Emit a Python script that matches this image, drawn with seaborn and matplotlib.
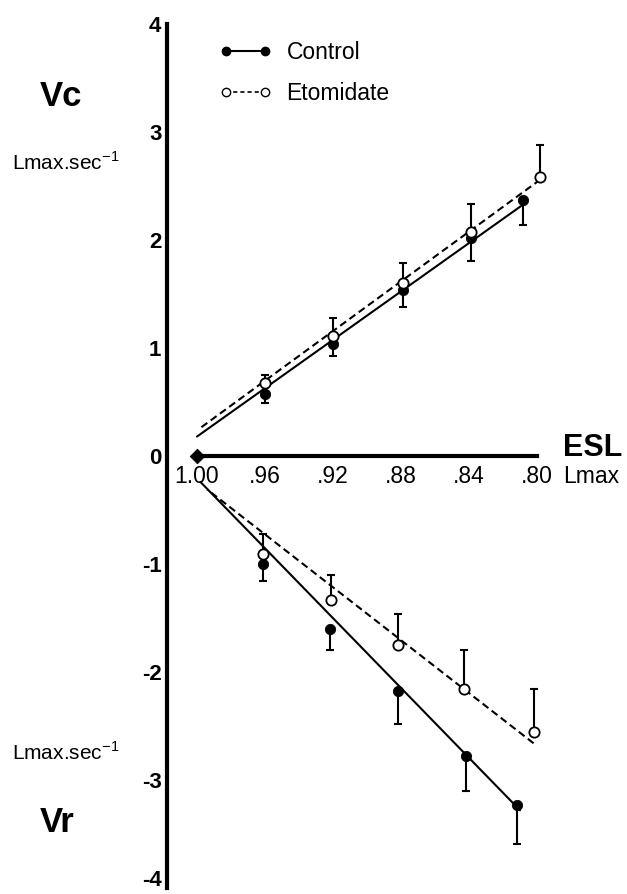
import matplotlib
matplotlib.use("Agg")
import matplotlib.pyplot as plt
import matplotlib.transforms as mtrans
from matplotlib.lines import Line2D
import seaborn as sns

# ---- data ----
esl_ticks = [1.00, 0.96, 0.92, 0.88, 0.84, 0.80]
esl_labels = ["1.00", ".96", ".92", ".88", ".84", ".80"]
v_ticks = [-4, -3, -2, -1, 0, 1, 2, 3, 4]
v_labels = ["-4", "-3", "-2", "-1", "0", "1", "2", "3", "4"]

origin_x = [1.00]
origin_y = [0.0]

# Vc (shortening velocity, upper half)
vc_ctrl_x = [0.960, 0.920, 0.879, 0.839, 0.808]
vc_ctrl_y = [0.57, 1.04, 1.54, 2.02, 2.37]
vc_ctrl_err = [0.08, 0.11, 0.16, 0.21, 0.23]

vc_etom_x = [0.960, 0.920, 0.879, 0.839, 0.798]
vc_etom_y = [0.68, 1.11, 1.60, 2.07, 2.58]
vc_etom_err = [0.07, 0.17, 0.19, 0.26, 0.30]

vc_ctrl_fit_x = [1.000, 0.808]
vc_ctrl_fit_y = [0.18, 2.33]
vc_etom_fit_x = [0.998, 0.798]
vc_etom_fit_y = [0.26, 2.56]

# Vr (relengthening velocity, lower half)
vr_ctrl_x = [0.961, 0.922, 0.882, 0.842, 0.812]
vr_ctrl_y = [-1.00, -1.60, -2.18, -2.78, -3.23]
vr_ctrl_err = [0.16, 0.20, 0.30, 0.32, 0.36]

vr_etom_x = [0.961, 0.921, 0.882, 0.843, 0.802]
vr_etom_y = [-0.91, -1.33, -1.75, -2.16, -2.56]
vr_etom_err = [0.19, 0.23, 0.29, 0.36, 0.40]

vr_ctrl_fit_x = [0.998, 0.810]
vr_ctrl_fit_y = [-0.24, -3.28]
vr_etom_fit_x = [0.994, 0.802]
vr_etom_fit_y = [-0.31, -2.66]

# ---- style ----
sns.set_theme(style="white")
plt.rcParams["font.family"] = ["Liberation Sans", "DejaVu Sans"]
plt.rcParams["axes.unicode_minus"] = False
plt.rcParams["text.color"] = "black"
plt.rcParams["legend.labelcolor"] = "black"

W, H = 627, 894
fig = plt.figure(figsize=(W / 100, H / 100), dpi=100)
fig.patch.set_facecolor("white")

# axes box: left spine at px 167, y=4 at px 24, y=-4 at px 888
left_px, right_px = 167, 627
top_px, bot_px = 24, 888
ax = fig.add_axes([left_px / W, 1 - bot_px / H, (right_px - left_px) / W, (bot_px - top_px) / H])
ax.set_facecolor("white")

px_per_unit_x = 68 / 0.04
ax.set_xlim(1.0 + (197 - left_px) / px_per_unit_x, 1.0 - (right_px - 197) / px_per_unit_x)
ax.set_ylim(-4, 4)

LW = 1.5
# fitted lines
sns.lineplot(x=vc_ctrl_fit_x, y=vc_ctrl_fit_y, ax=ax, color="black", linewidth=LW, zorder=2)
sns.lineplot(x=vc_etom_fit_x, y=vc_etom_fit_y, ax=ax, color="black", linewidth=LW,
             linestyle=(0, (3.5, 2)), zorder=2)
sns.lineplot(x=vr_ctrl_fit_x, y=vr_ctrl_fit_y, ax=ax, color="black", linewidth=LW, zorder=2)
sns.lineplot(x=vr_etom_fit_x, y=vr_etom_fit_y, ax=ax, color="black", linewidth=LW,
             linestyle=(0, (3.5, 2)), zorder=2)

# one-sided error bars
def ebar(xs, ys, errs, down):
    zeros = [0] * len(errs)
    yerr = [errs, zeros] if down else [zeros, errs]
    ax.errorbar(xs, ys, yerr=yerr, fmt="none", ecolor="black", elinewidth=LW,
                capsize=3, capthick=LW, zorder=3, clip_on=False)

ebar(vc_ctrl_x, vc_ctrl_y, vc_ctrl_err, down=True)
ebar(vc_etom_x, vc_etom_y, vc_etom_err, down=False)
ebar(vr_ctrl_x, vr_ctrl_y, vr_ctrl_err, down=True)
ebar(vr_etom_x, vr_etom_y, vr_etom_err, down=False)

# points
for xs, ys in [(vc_ctrl_x, vc_ctrl_y), (vr_ctrl_x, vr_ctrl_y)]:
    sns.scatterplot(x=xs, y=ys, ax=ax, marker="o", color="black", edgecolor="black",
                    s=55, zorder=4, clip_on=False)
for xs, ys in [(vc_etom_x, vc_etom_y), (vr_etom_x, vr_etom_y)]:
    sns.scatterplot(x=xs, y=ys, ax=ax, marker="o", facecolor="white", edgecolor="black",
                    linewidth=1.3, s=55, zorder=5, clip_on=False)
sns.scatterplot(x=origin_x, y=origin_y, ax=ax, marker="D", color="black", edgecolor="black",
                s=55, zorder=6, clip_on=False)

# spines
for side in ["top", "right"]:
    ax.spines[side].set_visible(False)
ax.spines["left"].set_linewidth(3)
ax.spines["left"].set_color("black")
ax.spines["left"].set_bounds(-4, 4)
ax.spines["bottom"].set_position(("data", 0))
ax.spines["bottom"].set_linewidth(3)
ax.spines["bottom"].set_color("black")
ax.spines["bottom"].set_bounds(esl_ticks[0], esl_ticks[-1])
ax.spines["bottom"].set_zorder(3)

ax.set_xticks(esl_ticks)
ax.set_xticklabels(esl_labels)
ax.set_yticks(v_ticks)
ax.set_yticklabels(v_labels)
ax.tick_params(axis="x", direction="inout", length=9.5, width=1.5, colors="black",
               labelsize=16.5, pad=1.5)
ax.tick_params(axis="y", direction="in", length=7, width=1.5, colors="black",
               labelsize=16, pad=4)
for lab in ax.get_yticklabels():
    lab.set_fontweight("bold")
# keep the bottom "-4" label inside the canvas
bottom_lab = ax.get_yticklabels()[0]
bottom_lab.set_transform(bottom_lab.get_transform() +
                         mtrans.ScaledTranslation(0, 10 / 100, fig.dpi_scale_trans))
ax.set_xlabel("")
ax.set_ylabel("")

# legend
h_ctrl = Line2D([], [], color="black", lw=LW, marker="o", markersize=6,
                markerfacecolor="black", markeredgecolor="black")
h_etom = Line2D([], [], color="black", lw=1.2, linestyle=(0, (2.5, 1.8)), marker="o",
                markersize=6, markerfacecolor="white", markeredgecolor="black")
ax.legend([h_ctrl, h_etom], ["Control", "Etomidate"], numpoints=2, frameon=False,
          loc="upper left", bbox_to_anchor=(219 / W, 1 - 41 / H), bbox_transform=fig.transFigure,
          fontsize=16.5, handlelength=2.3, handletextpad=0.65, labelspacing=0.78,
          borderpad=0, borderaxespad=0, labelcolor="black")

# annotations
def ftext(xp, yp, s, **kw):
    fig.text(xp / W, 1 - yp / H, s, va="center", ha="left", color="black", **kw)

ftext(40, 97, "Vc", fontsize=25, fontweight="bold")
ftext(12, 163, r"Lmax.sec$^{\mathregular{-1}}$", fontsize=15)
ftext(12, 752, r"Lmax.sec$^{\mathregular{-1}}$", fontsize=15)
ftext(40, 823, "Vr", fontsize=25, fontweight="bold")
ftext(563, 448, "ESL", fontsize=22, fontweight="bold")
ftext(563, 477, "Lmax", fontsize=16.5)

fig.savefig("out.png", dpi=100, facecolor="white")
